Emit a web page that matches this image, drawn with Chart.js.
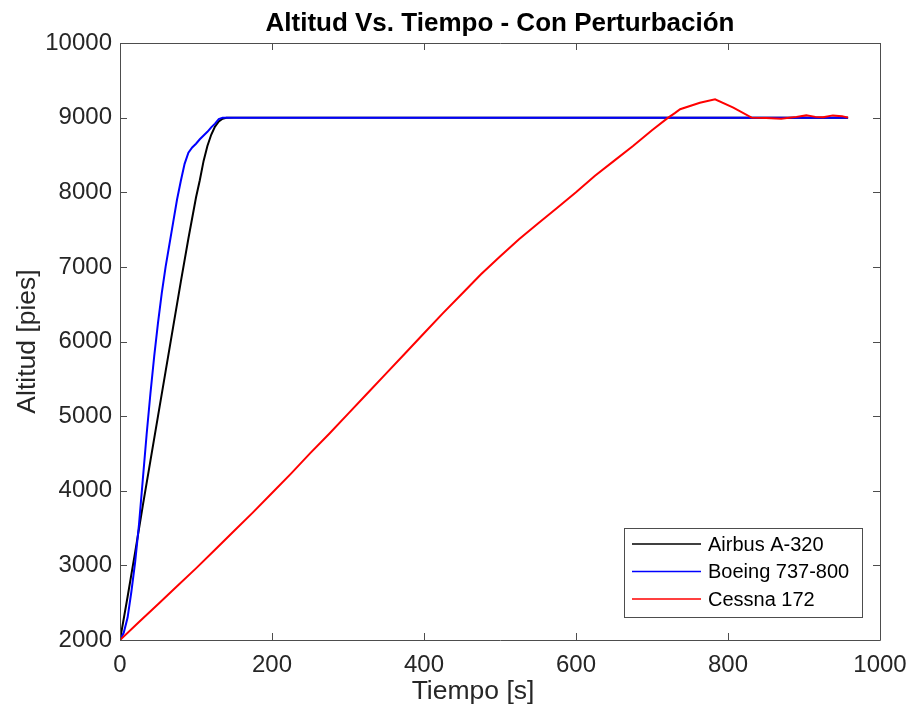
<!DOCTYPE html>
<html>
<head>
<meta charset="utf-8">
<script src="https://cdn.jsdelivr.net/npm/chart.js@4.4.1/dist/chart.umd.min.js"></script>
<style>
  html, body { margin: 0; padding: 0; background: #ffffff; }
  #wrap { width: 910px; height: 716px; }
</style>
</head>
<body>
<div id="wrap"><canvas id="c" width="910" height="716"></canvas></div>
<script>
// Altitude responses of three aircraft with a disturbance applied
const seriesNames = ['Airbus A-320', 'Boeing 737-800', 'Cessna 172'];
const seriesColors = ['#000000', '#0000ff', '#ff0000'];

// Airbus A-320
const timeA = [0, 10, 20, 30, 40, 50, 60, 70, 80, 90, 100, 105, 110, 115, 120, 125, 130, 135, 140, 150, 958];
const altA  = [2000, 2580, 3180, 3800, 4400, 5000, 5600, 6200, 6800, 7380, 7930, 8160, 8420, 8620, 8770, 8880, 8950, 8985, 8998, 9000, 9000];

// Boeing 737-800
const timeB = [0, 5, 10, 15, 20, 25, 30, 35, 40, 45, 50, 55, 60, 65, 70, 75, 80, 85, 90, 95, 100, 105, 110, 115, 120, 125, 130, 135, 958];
const altB  = [2000, 2100, 2300, 2650, 3050, 3550, 4150, 4750, 5300, 5800, 6250, 6650, 7000, 7300, 7600, 7900, 8150, 8380, 8530, 8600, 8650, 8710, 8760, 8810, 8870, 8920, 8980, 9000, 9000];

// Cessna 172
const timeC = [0, 25, 50, 75, 100, 125, 150, 175, 200, 225, 250, 275, 300, 325, 350, 375, 400, 425, 450, 475, 500, 525, 550, 575, 600, 625, 650, 675, 700, 720, 730, 737, 763, 783, 807, 831, 850, 870, 890, 903, 915, 925, 938, 950, 958];
const altC  = [2000, 2240, 2480, 2720, 2960, 3210, 3460, 3710, 3970, 4230, 4500, 4760, 5030, 5300, 5570, 5840, 6110, 6380, 6640, 6900, 7140, 7370, 7580, 7790, 8000, 8220, 8420, 8620, 8830, 8990, 9060, 9112, 9200, 9246, 9134, 9000, 8995, 8985, 9010, 9030, 9010, 9005, 9030, 9020, 9000];

// Axis ticks
const xTicks = [0, 200, 400, 600, 800, 1000];
const yTicks = [2000, 3000, 4000, 5000, 6000, 7000, 8000, 9000, 10000];
const xTitle = 'Tiempo [s]';

const FONT = '"Liberation Sans", Arial, Helvetica, sans-serif';
const TEXT = '#262626';
const AXIS = '#4d4d4d';

function toPoints(xs, ys) {
  return xs.map((x, i) => ({ x: x, y: ys[i] }));
}

const series = [[timeA, altA], [timeB, altB], [timeC, altC]];
const datasets = series.map((s, i) => ({
  label: seriesNames[i],
  data: toPoints(s[0], s[1]),
  borderColor: seriesColors[i],
  backgroundColor: seriesColors[i],
  borderWidth: 2,
  pointRadius: 0,
  tension: 0,
  fill: false,
  order: 3 - i
}));

// Box frame with inward tick marks on all four sides, plus the x-axis label
const framePlugin = {
  id: 'frame',
  afterDraw(chart) {
    const { ctx, chartArea: a, scales } = chart;
    const len = 7;
    ctx.save();
    ctx.strokeStyle = AXIS;
    ctx.lineWidth = 1;
    ctx.beginPath();
    ctx.rect(a.left + 0.5, a.top + 0.5, a.right - a.left, a.bottom - a.top);
    xTicks.forEach(v => {
      const px = Math.round(scales.x.getPixelForValue(v)) + 0.5;
      ctx.moveTo(px, a.bottom); ctx.lineTo(px, a.bottom - len);
      ctx.moveTo(px, a.top); ctx.lineTo(px, a.top + len);
    });
    yTicks.forEach(v => {
      const py = Math.round(scales.y.getPixelForValue(v)) + 0.5;
      ctx.moveTo(a.left, py); ctx.lineTo(a.left + len, py);
      ctx.moveTo(a.right, py); ctx.lineTo(a.right - len, py);
    });
    ctx.stroke();

    ctx.fillStyle = TEXT;
    ctx.font = '26.5px ' + FONT;
    ctx.textAlign = 'center';
    ctx.textBaseline = 'middle';
    ctx.fillText(xTitle, (a.left + a.right) / 2 - 27, a.bottom + 52);
    ctx.restore();
  }
};

// Boxed legend in the lower right corner of the plot area
const legendBoxPlugin = {
  id: 'legendBox',
  afterDraw(chart) {
    const { ctx, chartArea: a } = chart;
    const fontSize = 20;
    ctx.save();
    ctx.font = fontSize + 'px ' + FONT;
    const textW = Math.max(...seriesNames.map(n => ctx.measureText(n).width));
    const padL = 8, lineLen = 69, gap = 7, padR = 13, rowH = 27.5;
    const w = padL + lineLen + gap + textW + padR;
    const h = 89;
    const right = a.right - 18;
    const bottom = a.bottom - 23;
    const left = Math.round(right - w), top = Math.round(bottom - h);
    ctx.fillStyle = '#ffffff';
    ctx.fillRect(left, top, right - left, bottom - top);
    ctx.strokeStyle = AXIS;
    ctx.lineWidth = 1;
    ctx.strokeRect(left + 0.5, top + 0.5, right - left, bottom - top);
    chart.data.datasets.forEach((ds, i) => {
      const y = top + 16 + i * rowH;
      ctx.strokeStyle = ds.borderColor;
      ctx.lineWidth = 1.5;
      ctx.beginPath();
      ctx.moveTo(left + padL, y);
      ctx.lineTo(left + padL + lineLen, y);
      ctx.stroke();
      ctx.fillStyle = '#000000';
      ctx.textBaseline = 'middle';
      ctx.textAlign = 'left';
      ctx.fillText(ds.label, left + padL + lineLen + gap, y + 1);
    });
    ctx.restore();
  }
};

new Chart(document.getElementById('c'), {
  type: 'line',
  data: { datasets: datasets },
  options: {
    responsive: false,
    animation: false,
    events: [],
    layout: { padding: { left: 0, right: 30, top: 0, bottom: 0 } },
    plugins: {
      legend: { display: false },
      tooltip: { enabled: false },
      title: {
        display: true,
        text: 'Altitud Vs. Tiempo - Con Perturbación',
        fullSize: false,
        color: '#000000',
        font: { family: FONT, size: 26, weight: 'bold', lineHeight: 1.2 },
        padding: { top: 8.4, bottom: 3.4 }
      }
    },
    scales: {
      x: {
        type: 'linear',
        min: 0, max: 1000,
        afterBuildTicks(scale) { scale.ticks = xTicks.map(v => ({ value: v })); },
        afterFit(scale) {
          scale.height = 76;
          scale.paddingLeft = 0;
          scale.paddingRight = 0;
        },
        grid: { display: false, drawTicks: false },
        border: { display: false },
        ticks: {
          color: TEXT,
          padding: 11,
          maxRotation: 0,
          autoSkip: false,
          font: { family: FONT, size: 24 },
          callback: v => String(v)
        },
        title: { display: false }
      },
      y: {
        type: 'linear',
        min: 2000, max: 10000,
        afterBuildTicks(scale) { scale.ticks = yTicks.map(v => ({ value: v })); },
        afterFit(scale) {
          scale.width = 120;
          scale.paddingTop = 0;
          scale.paddingBottom = 0;
        },
        grid: { display: false, drawTicks: false },
        border: { display: false },
        ticks: {
          color: TEXT,
          padding: 8,
          autoSkip: false,
          font: { family: FONT, size: 24 },
          callback: v => String(v)
        },
        title: {
          display: true,
          text: 'Altitud [pies]',
          color: TEXT,
          font: { family: FONT, size: 26.5, lineHeight: 1.2 },
          padding: { top: 12, bottom: 0 }
        }
      }
    }
  },
  plugins: [framePlugin, legendBoxPlugin]
});
</script>
</body>
</html>
